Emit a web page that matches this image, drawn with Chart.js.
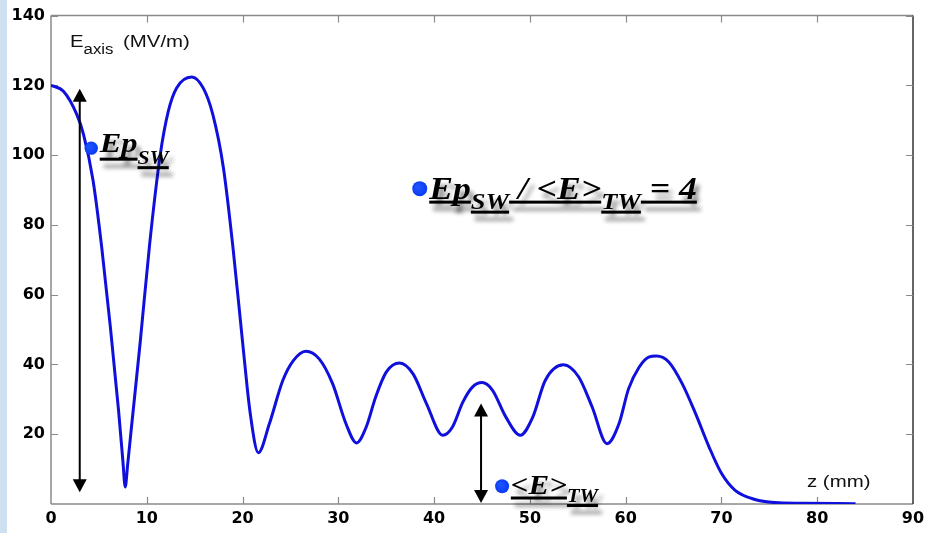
<!DOCTYPE html>
<html>
<head>
<meta charset="utf-8">
<script src="https://cdn.jsdelivr.net/npm/chart.js@4.4.1/dist/chart.umd.min.js"></script>
<style>
  html, body { margin: 0; padding: 0; background: #ffffff; overflow: hidden; }
  #c { display: block; }
</style>
</head>
<body>
<canvas id="c" width="931" height="533"></canvas>
<script>
// On-axis field profile E(z)
const zPositions = [0, 1.3, 2.7, 3.4, 4.4, 5.3, 6.2, 7.05, 7.5, 7.75, 8.0, 8.4, 9.3, 10.3, 11.4, 12.25, 13.1, 14.7, 15.9, 16.9, 18.0, 19.0, 20.0, 20.8, 21.65, 22.8, 24.2, 25.3, 26.6, 28.0, 29.4, 30.8, 31.9, 32.9, 33.9, 35.0, 36.4, 37.8, 39.2, 40.9, 41.9, 43.0, 44.0, 45.0, 46.1, 47.5, 49.0, 50.3, 51.6, 53.5, 55.1, 56.5, 58.05, 59.3, 60.3, 61.4, 62.4, 63.2, 64.5, 65.9, 67.3, 68.7, 70.0, 71.4, 73.5, 75.6, 78.4, 84.0];
const eAxis = [120, 118.3, 111.6, 105.9, 92.6, 73.5, 50.7, 26.9, 12.5, 4.9, 11.2, 22, 46, 74.5, 100, 112.6, 119.2, 122.4, 119.2, 111.6, 96.4, 73.5, 46.5, 26, 14.7, 23, 35.4, 41.1, 43.8, 41.6, 34.5, 23, 17.5, 22, 30.7, 37.8, 40.4, 37.3, 28.8, 19.7, 22, 29.2, 33.5, 34.8, 32.6, 24.9, 19.7, 24.9, 35.4, 39.9, 36.4, 27.8, 17.3, 23, 33, 39.2, 42.1, 42.4, 40.7, 34.5, 25.9, 16.4, 8.8, 4, 1.3, 0.4, 0.2, 0.1];

// Axis ranges and tick steps
const xRange = [0, 90];
const xStep = 10;
const yRange = [0, 140];
const yStep = 20;

// Double arrows: [z, E at lower tip, E at upper tip]
const arrowSW = [3.0, 3.4, 119];
const arrowTW = [44.9, 0.3, 28.8];

// Marker dots [z, E] with their labels
const dotEpSW = [4.2, 102];
const dotRatio = [38.5, 90.4];
const dotMeanTW = [47.1, 5.1];

const labelEpSW = [{ t: 'Ep' }, { t: 'SW', sub: true }];
const labelRatio = [{ t: 'Ep' }, { t: 'SW', sub: true }, { t: ' / <E>' }, { t: 'TW', sub: true }, { t: ' = 4' }];
const labelMeanTW = [{ t: '<E>' }, { t: 'TW', sub: true }];

const STRETCH = 1.2;
const AXIS_COLOR = '#8a8a8a';
const LINE_COLOR = '#1010dc';
const DOT_COLOR = '#0a3cf5';

function drawArrow(ctx, x, yBottom, yTop) {
  const head = 13, half = 7;
  ctx.save();
  ctx.strokeStyle = '#000';
  ctx.fillStyle = '#000';
  ctx.lineWidth = 2;
  ctx.beginPath();
  ctx.moveTo(x, yTop + head - 1);
  ctx.lineTo(x, yBottom - head + 1);
  ctx.stroke();
  ctx.beginPath();
  ctx.moveTo(x, yTop);
  ctx.lineTo(x - half, yTop + head);
  ctx.lineTo(x + half, yTop + head);
  ctx.closePath();
  ctx.fill();
  ctx.beginPath();
  ctx.moveTo(x, yBottom);
  ctx.lineTo(x - half, yBottom - head);
  ctx.lineTo(x + half, yBottom - head);
  ctx.closePath();
  ctx.fill();
  ctx.restore();
}

function drawDot(ctx, x, y, r) {
  ctx.save();
  const g = ctx.createRadialGradient(x - r * 0.3, y - r * 0.3, r * 0.1, x, y, r);
  g.addColorStop(0, '#1f55ff');
  g.addColorStop(1, DOT_COLOR);
  ctx.fillStyle = g;
  ctx.beginPath();
  ctx.arc(x, y, r, 0, Math.PI * 2);
  ctx.fill();
  ctx.restore();
}

// Bold italic serif label with subscripts, underlined, with a soft drop shadow
function drawRich(ctx, x, y, parts, o) {
  ctx.save();
  ctx.translate(x, y);
  ctx.scale(o.k, 1);
  ctx.fillStyle = '#000';
  ctx.shadowColor = 'rgba(0,0,0,0.45)';
  ctx.shadowOffsetX = 4;
  ctx.shadowOffsetY = 7;
  ctx.shadowBlur = 4;
  ctx.textBaseline = 'alphabetic';
  let cx = 0;
  for (const p of parts) {
    const size = p.sub ? o.sub : o.main;
    ctx.font = 'italic bold ' + size + 'px "Liberation Serif", "Times New Roman", serif';
    const dy = p.sub ? o.subDy : 0;
    const w = ctx.measureText(p.t).width;
    ctx.fillText(p.t, cx, dy);
    const uy = dy + (p.sub ? o.subUl : o.mainUl);
    ctx.fillRect(cx, uy, w, 3);
    cx += w;
  }
  ctx.restore();
}

function drawSans(ctx, x, y, text, size) {
  ctx.save();
  ctx.translate(x, y);
  ctx.scale(STRETCH, 1);
  ctx.fillStyle = '#111';
  ctx.font = size + 'px "Liberation Sans", Arial, sans-serif';
  ctx.textBaseline = 'alphabetic';
  ctx.fillText(text, 0, 0);
  const w = ctx.measureText(text).width;
  ctx.restore();
  return w * STRETCH;
}

const framePlugin = {
  id: 'frame',
  beforeDraw(chart) {
    const ctx = chart.ctx;
    ctx.save();
    ctx.fillStyle = '#ffffff';
    ctx.fillRect(0, 0, chart.width, chart.height);
    ctx.fillStyle = '#cfe0f1';
    ctx.fillRect(0, 0, 7, chart.height);
    ctx.restore();
  },
  beforeDatasetsDraw(chart) {
    const ctx = chart.ctx;
    const a = chart.chartArea;
    const xs = chart.scales.x, ys = chart.scales.y;
    ctx.save();
    ctx.lineWidth = 1.5;
    ctx.strokeStyle = AXIS_COLOR;
    ctx.beginPath();
    ctx.moveTo(a.left, a.top); ctx.lineTo(a.right, a.top);
    ctx.moveTo(a.left, a.top); ctx.lineTo(a.left, a.bottom);
    ctx.moveTo(a.left, a.bottom); ctx.lineTo(a.right, a.bottom);
    ctx.stroke();
    ctx.strokeStyle = '#333';
    ctx.beginPath();
    ctx.moveTo(a.right, a.top); ctx.lineTo(a.right, a.bottom);
    ctx.stroke();
    // inward tick marks on all four sides
    ctx.strokeStyle = AXIS_COLOR;
    ctx.lineWidth = 1.2;
    const len = 7;
    ctx.beginPath();
    xs.ticks.forEach(t => {
      if (t.value <= xRange[0] || t.value >= xRange[1]) return;
      const px = Math.round(xs.getPixelForValue(t.value)) + 0.5;
      ctx.moveTo(px, a.bottom); ctx.lineTo(px, a.bottom - len);
      ctx.moveTo(px, a.top); ctx.lineTo(px, a.top + len);
    });
    ys.ticks.forEach(t => {
      if (t.value <= yRange[0]) return;
      const py = Math.round(ys.getPixelForValue(t.value)) + 0.5;
      ctx.moveTo(a.left, py); ctx.lineTo(a.left + len, py);
      ctx.moveTo(a.right, py); ctx.lineTo(a.right - len, py);
    });
    ctx.stroke();
    ctx.restore();

    // axis captions inside the frame
    const w = drawSans(ctx, a.left + 19, a.top + 31, 'E', 17);
    drawSans(ctx, a.left + 19 + w, a.top + 38, 'axis', 14);
    drawSans(ctx, a.left + 72, a.top + 31, '(MV/m)', 17);
    drawSans(ctx, a.right - 106, a.bottom - 17, 'z (mm)', 17);
  },
  afterDatasetsDraw(chart) {
    const ctx = chart.ctx;
    const xs = chart.scales.x, ys = chart.scales.y;
    const P = (z, e) => [xs.getPixelForValue(z), ys.getPixelForValue(e)];

    let p1 = P(arrowSW[0], arrowSW[1]), p2 = P(arrowSW[0], arrowSW[2]);
    drawArrow(ctx, p1[0], p1[1], p2[1]);
    p1 = P(arrowTW[0], arrowTW[1]); p2 = P(arrowTW[0], arrowTW[2]);
    drawArrow(ctx, p1[0], p1[1], p2[1]);

    let d = P(dotEpSW[0], dotEpSW[1]);
    drawRich(ctx, d[0] + 8.5, d[1] + 3.5, labelEpSW, { k: 1.2, main: 27, sub: 18, subDy: 12, mainUl: 6, subUl: 2.5 });
    drawDot(ctx, d[0], d[1], 6.7);

    d = P(dotRatio[0], dotRatio[1]);
    drawRich(ctx, d[0] + 9.5, d[1] + 10, labelRatio, { k: 1.15, main: 31, sub: 23, subDy: 10, mainUl: 2, subUl: 2 });
    drawDot(ctx, d[0], d[1], 7.5);

    d = P(dotMeanTW[0], dotMeanTW[1]);
    drawRich(ctx, d[0] + 8.7, d[1] + 7.3, labelMeanTW, { k: 1.15, main: 27, sub: 18, subDy: 8.5, mainUl: 3, subUl: 2 });
    drawDot(ctx, d[0], d[1], 7);
  }
};

const tickFont = { family: '"DejaVu Sans", sans-serif', size: 16, weight: 'bold' };

new Chart(document.getElementById('c'), {
  type: 'line',
  data: {
    datasets: [{
      data: zPositions.map((z, i) => ({ x: z, y: eAxis[i] })),
      borderColor: LINE_COLOR,
      borderWidth: 3,
      pointRadius: 0,
      fill: false,
      cubicInterpolationMode: 'monotone'
    }]
  },
  options: {
    responsive: false,
    devicePixelRatio: 1,
    animation: false,
    layout: { padding: { left: 0, top: 14, right: 18, bottom: 0 } },
    plugins: { legend: { display: false }, tooltip: { enabled: false } },
    scales: {
      x: {
        type: 'linear', min: xRange[0], max: xRange[1],
        grid: { display: false, drawTicks: false },
        border: { display: false },
        ticks: { stepSize: xStep, color: '#000', font: tickFont, padding: 5, maxRotation: 0, autoSkip: false },
        afterFit(s) { s.height = 29; }
      },
      y: {
        type: 'linear', min: yRange[0], max: yRange[1],
        grid: { display: false, drawTicks: false },
        border: { display: false },
        ticks: { stepSize: yStep, color: '#000', font: tickFont, padding: 6, callback: v => (v === 0 ? '' : v) },
        afterFit(s) { s.width = 51; }
      }
    }
  },
  plugins: [framePlugin]
});
</script>
</body>
</html>
